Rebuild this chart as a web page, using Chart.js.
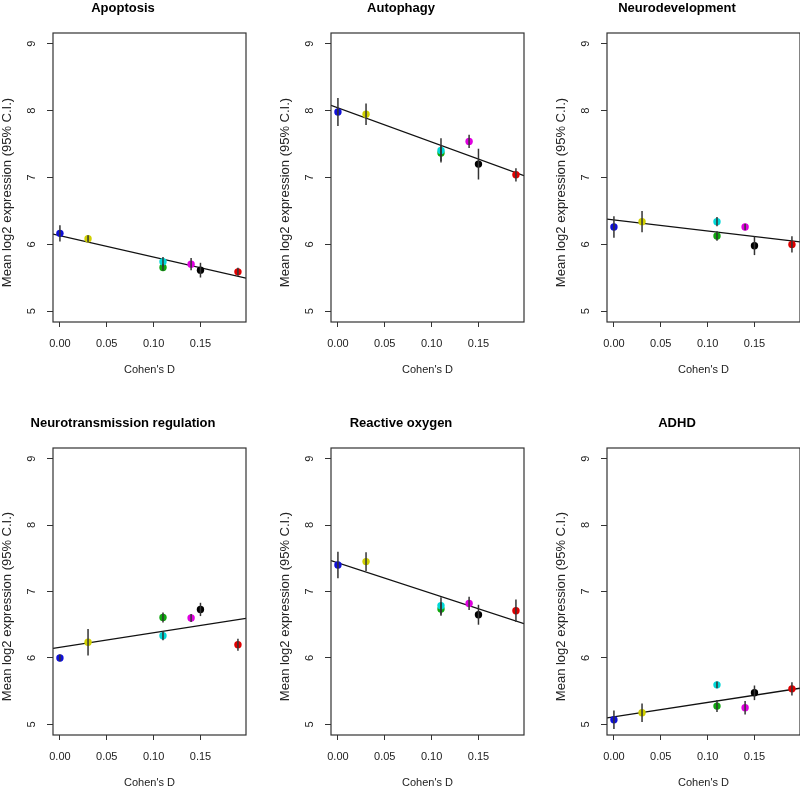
<!DOCTYPE html>
<html>
<head>
<meta charset="utf-8">
<script src="https://cdn.jsdelivr.net/npm/chart.js@4.4.1/dist/chart.umd.min.js"></script>
<style>
  html, body { margin: 0; padding: 0; background: #fff; overflow: hidden; }
  #wrap { position: relative; width: 800px; height: 791px; overflow: hidden; }
  #wrap canvas { position: absolute; }
</style>
</head>
<body>
<div id="wrap"></div>
<script>
// Cohen's D of the seven groups, same in every panel
const cohensD = [0.00, 0.03, 0.11, 0.11, 0.14, 0.15, 0.19];
const groupColors = ["#1010d8", "#d0d000", "#10a810", "#00d8d8", "#e000e0", "#000000", "#e00000"];

const panelTitles = ["Apoptosis", "Autophagy", "Neurodevelopment",
                     "Neurotransmission regulation", "Reactive oxygen", "ADHD"];

// mean log2 expression and half width of the 95% C.I.
const apoptosisMean = [6.165, 6.085, 5.655, 5.74, 5.705, 5.615, 5.59];
const apoptosisCI   = [0.12, 0.05, 0.05, 0.07, 0.09, 0.11, 0.06];

const autophagyMean = [7.98, 7.945, 7.365, 7.405, 7.54, 7.2, 7.04];
const autophagyCI   = [0.21, 0.16, 0.12, 0.18, 0.10, 0.23, 0.10];

const neurodevMean = [6.26, 6.34, 6.125, 6.34, 6.26, 5.98, 6.0];
const neurodevCI   = [0.16, 0.16, 0.07, 0.07, 0.05, 0.14, 0.12];

const neurotransMean = [6.0, 6.235, 6.61, 6.335, 6.6, 6.73, 6.2];
const neurotransCI   = [0.05, 0.20, 0.075, 0.07, 0.06, 0.10, 0.09];

const reactiveMean = [7.4, 7.45, 6.735, 6.785, 6.82, 6.65, 6.71];
const reactiveCI   = [0.20, 0.14, 0.10, 0.13, 0.10, 0.15, 0.17];

const adhdMean = [5.07, 5.175, 5.275, 5.595, 5.25, 5.475, 5.535];
const adhdCI   = [0.14, 0.14, 0.09, 0.05, 0.10, 0.11, 0.10];

// fitted line of each panel
const fitIntercept = [6.13, 8.04, 6.365, 6.16, 7.43, 5.115];
const fitSlope     = [-3.2, -5.1, -1.65, 2.2, -4.6, 2.16];

const xTicks = [0, 0.05, 0.10, 0.15];
const yTicks = [5, 6, 7, 8, 9];

const means = [apoptosisMean, autophagyMean, neurodevMean, neurotransMean, reactiveMean, adhdMean];
const cis   = [apoptosisCI, autophagyCI, neurodevCI, neurotransCI, reactiveCI, adhdCI];

const X_MIN = -0.0074, X_MAX = 0.1986;
const Y_MIN = 4.84, Y_MAX = 9.16;

Chart.defaults.font.family = "'Liberation Sans', Arial, sans-serif";
Chart.defaults.color = "#222";

// box, error bars and y title like base R
const panelDecor = {
  id: "panelDecor",
  afterDatasetsDraw(chart, args, opts) {
    const { ctx, scales: { x, y } } = chart;
    ctx.save();
    ctx.strokeStyle = "#333";
    ctx.lineWidth = 1.5;
    opts.mean.forEach((m, i) => {
      const px = x.getPixelForValue(cohensD[i]);
      ctx.beginPath();
      ctx.moveTo(px, y.getPixelForValue(m - opts.ci[i]));
      ctx.lineTo(px, y.getPixelForValue(m + opts.ci[i]));
      ctx.stroke();
    });
    ctx.restore();
  },
  afterDraw(chart) {
    const { ctx, chartArea: a } = chart;
    ctx.save();
    ctx.strokeStyle = "#333";
    ctx.lineWidth = 1.2;
    ctx.strokeRect(a.left, a.top, a.right - a.left, a.bottom - a.top);
    ctx.translate(a.left - 46, (a.top + a.bottom) / 2 + 15);
    ctx.rotate(-Math.PI / 2);
    ctx.fillStyle = "#222";
    ctx.font = "13px 'Liberation Sans', Arial, sans-serif";
    ctx.textAlign = "center";
    ctx.textBaseline = "middle";
    ctx.fillText("Mean log2 expression (95% C.I.)", 0, 0);
    ctx.restore();
  }
};

const wrap = document.getElementById("wrap");
const lefts = [0, 278, 554];
const rows = [{ top: 0, h: 395 }, { top: 415, h: 393 }];

panelTitles.forEach((title, p) => {
  const row = rows[Math.floor(p / 3)];
  const cv = document.createElement("canvas");
  cv.width = 299;
  cv.height = row.h;
  cv.style.left = lefts[p % 3] + "px";
  cv.style.top = row.top + "px";
  wrap.appendChild(cv);

  const pts = cohensD.map((d, i) => ({ x: d, y: means[p][i] }));
  const fit = [X_MIN, X_MAX].map(v => ({ x: v, y: fitIntercept[p] + fitSlope[p] * v }));

  new Chart(cv, {
    type: "scatter",
    data: {
      datasets: [
        {
          data: pts,
          backgroundColor: groupColors,
          pointRadius: 3.7,
          pointBorderWidth: 0,
        },
        {
          type: "line",
          data: fit,
          showLine: true,
          borderColor: "#111",
          borderWidth: 1.3,
          pointRadius: 0,
        },
      ],
    },
    options: {
      responsive: false,
      animation: false,
      layout: { padding: { left: 0, right: 53, top: 0, bottom: 0 } },
      plugins: {
        legend: { display: false },
        tooltip: { enabled: false },
        title: {
          display: true,
          text: title,
          color: "#000",
          font: { size: 13, weight: "bold", lineHeight: 1 },
          padding: { top: 2, bottom: 18 },
        },
        panelDecor: { mean: means[p], ci: cis[p] },
      },
      scales: {
        x: {
          type: "linear",
          min: X_MIN,
          max: X_MAX,
          afterBuildTicks: s => { s.ticks = xTicks.map(v => ({ value: v })); },
          afterFit: s => { s.height = 73; },
          grid: { display: true, drawOnChartArea: false, drawTicks: true, tickLength: 5, color: "#333" },
          border: { display: false },
          ticks: { font: { size: 11 }, padding: 10, maxRotation: 0, autoSkip: false,
                   callback: v => v.toFixed(2) },
          title: { display: true, text: "Cohen's D", font: { size: 11 }, padding: { top: 0, bottom: 18 } },
        },
        y: {
          type: "linear",
          min: Y_MIN,
          max: Y_MAX,
          afterBuildTicks: s => { s.ticks = yTicks.map(v => ({ value: v })); },
          afterFit: s => { s.width = 53; },
          grid: { display: true, drawOnChartArea: false, drawTicks: true, tickLength: 6, color: "#333" },
          border: { display: false },
          ticks: { font: { size: 11 }, padding: 12, minRotation: 90, maxRotation: 90,
                   crossAlign: "center", callback: v => String(v) },
        },
      },
    },
    plugins: [panelDecor],
  });
});
</script>
</body>
</html>
